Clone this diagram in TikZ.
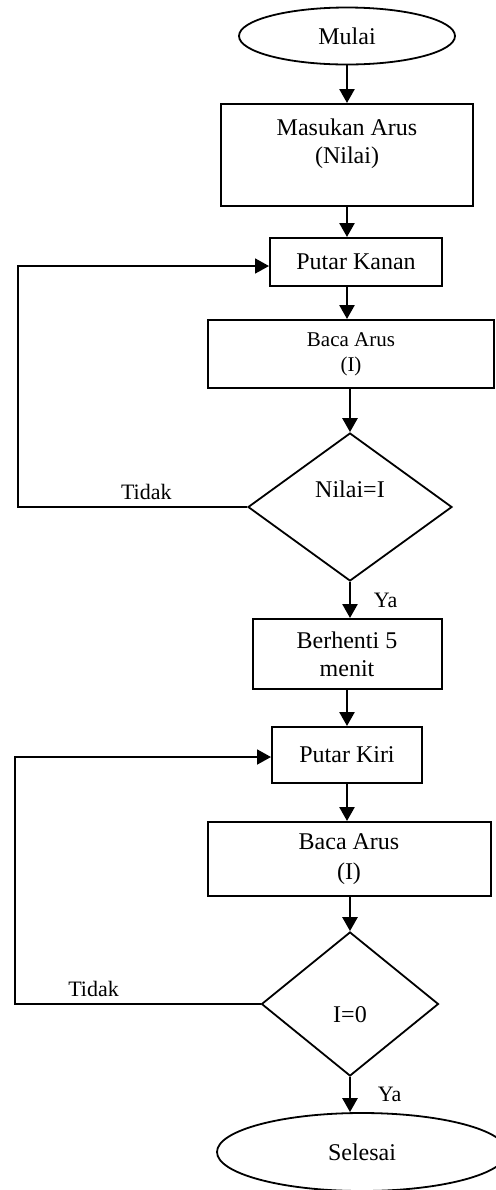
\documentclass[tikz,border=0pt]{standalone}
\usepackage{fontspec}
\setmainfont{Liberation Serif}
\usetikzlibrary{shapes.geometric}
\usetikzlibrary{arrows.meta}
\tikzset{
    myterm/.style = {ellipse, draw=black, line width=0.9pt, align=center},
    mybox/.style = {rectangle, draw=black, line width=1pt, align=center},
    mydec/.style = {diamond, draw=black, line width=0.9pt, align=center, inner sep=0pt},
    edgea/.style = {-{Triangle[length=7pt,width=7.5pt]}, line width=1.3pt, black},
    edgeb/.style = {-{Triangle[length=7pt,width=7.5pt]}, line width=0.9pt, black},
    edgel/.style = {font=\fontsize{11}{13}\selectfont},
    myfont/.style = {font=\fontsize{12}{14}\selectfont}
}

\begin{document}
\begin{tikzpicture}[x=0.5pt, y=-0.5pt, myfont]
  \useasboundingbox (0,0) rectangle (496,1190);
  \node (mulai) at (347,36) [myterm, minimum width=108pt, minimum height=28.5pt] {Mulai};
  \node (masukan) at (347,155) [mybox, minimum width=126pt, minimum height=51pt, text depth=14pt] {Masukan Arus\\(Nilai)};
  \node (kanan) at (356,262) [mybox, minimum width=86pt, minimum height=24pt] {Putar Kanan};
  \node (baca1) at (351,354) [mybox, minimum width=143pt, minimum height=34pt, font=\fontsize{10.5}{12.5}\selectfont] {Baca Arus\\(I)};
  \node (cek1) at (350,507) [mydec, minimum width=102pt, minimum height=74pt, text depth=18pt] {Nilai=I};
  \node (berhenti) at (347,654) [mybox, minimum width=94.5pt, minimum height=35pt] {Berhenti 5\\menit};
  \node (kiri) at (347,755) [mybox, minimum width=75pt, minimum height=28pt] {Putar Kiri};
  \node (baca2) at (349,859) [mybox, minimum width=141.5pt, minimum height=37pt, font=\fontsize{12}{15}\selectfont] {Baca Arus\\(I)};
  \node (cek2) at (350,1004) [mydec, minimum width=88.5pt, minimum height=72pt, text height=19pt] {I=0};
  \node (selesai) at (362,1152) [myterm, minimum width=145pt, minimum height=39pt] {Selesai};
  \coordinate (balik1) at (18,266);
  \coordinate (balik2) at (15,757);

  % alur utama
  \draw[edgea] (mulai.south) -- (mulai.south |- masukan.north);
  \draw[edgea] (masukan.south) -- (masukan.south |- kanan.north);
  \draw[edgea] (masukan.south |- kanan.south) -- (masukan.south |- baca1.north);
  \draw[edgea] (baca1.south -| cek1.north) -- (cek1.north);
  \draw[edgea] (cek1.south) -- node[right=8pt, edgel] {Ya} (cek1.south |- berhenti.north);
  \draw[edgea] (berhenti.south) -- (berhenti.south |- kiri.north);
  \draw[edgea] (kiri.south) -- (kiri.south |- baca2.north);
  \draw[edgea] (baca2.south -| cek2.north) -- (cek2.north);
  \draw[edgea] (cek2.south) -- node[right=10pt, edgel] {Ya} (cek2.south |- selesai.north);

  % putaran balik
  \draw[edgeb] (cek1.west) -- node[above, pos=0.44, font=\fontsize{11}{13}\selectfont] {Tidak} (cek1.west -| balik1) -- (balik1) -- (balik1 -| kanan.west);
  \draw[edgeb] (cek2.west) -- node[above, pos=0.68, font=\fontsize{11}{13}\selectfont] {Tidak} (cek2.west -| balik2) -- (balik2) -- (balik2 -| kiri.west);
\end{tikzpicture}
\end{document}
